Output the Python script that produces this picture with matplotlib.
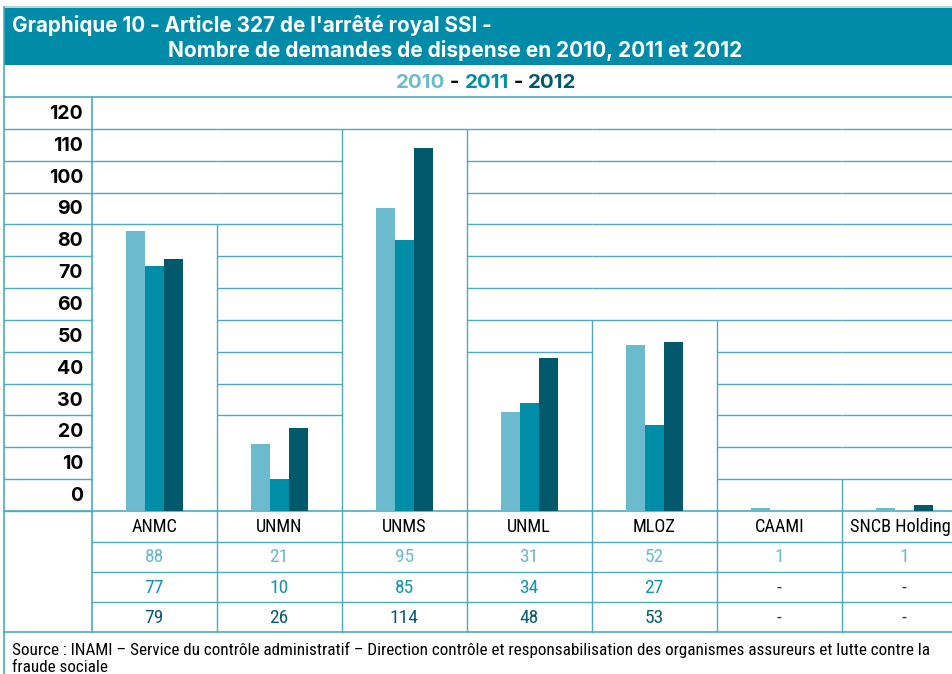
import numpy as np
import matplotlib
matplotlib.use('Agg')
import matplotlib.pyplot as plt
from matplotlib.patches import Rectangle
from matplotlib import font_manager as fm

# data
categories = ['ANMC', 'UNMN', 'UNMS', 'UNML', 'MLOZ', 'CAAMI', 'SNCB Holding']
years = ['2010', '2011', '2012']
v2010 = [88, 21, 95, 31, 52, 1, 1]
v2011 = [77, 10, 85, 34, 27, 0, 0]
v2012 = [79, 26, 114, 48, 53, 0, 2]
t2010 = ['88', '21', '95', '31', '52', '1', '1']
t2011 = ['77', '10', '85', '34', '27', '-', '-']
t2012 = ['79', '26', '114', '48', '53', '-', '-']
yticks = list(range(0, 130, 10))

c10, c11, c12 = '#6BBACE', '#008DA8', '#005A6C'
line_c = '#4AABC1'
light_line = '#9FD3DE'
title_bg = '#008CA8'

# pick a narrow face if one is installed
names = {f.name for f in fm.fontManager.ttflist}
narrow_name = 'Roboto'
for cand in ['Roboto Condensed', 'Liberation Sans Narrow', 'Arial Narrow', 'Open Sans Condensed']:
    if cand in names:
        narrow_name = cand
        break
narrow = [narrow_name, 'DejaVu Sans']
head = ['Inter', 'Liberation Sans', 'DejaVu Sans']

W, H = 953, 674
fig = plt.figure(figsize=(W / 100, H / 100), dpi=100)
r = fig.canvas.get_renderer()

# overlay in pixel coords
ov = fig.add_axes([0, 0, 1, 1])
ov.set_xlim(0, W)
ov.set_ylim(H, 0)
ov.axis('off')

def fit_text(x, y, s, width, size, **kw):
    t = ov.text(x, y, s, fontsize=size, va='baseline', **kw)
    w = t.get_window_extent(r).width
    t.set_fontsize(size * width / w)
    return t

x0 = 4.0         # outer left border
xl = 91.7        # label column right edge
colw = 125.0
ybase = 511.0
ytop = 97.0
ymax = 130.0
def ypx(v):
    return ybase - v * (ybase - ytop) / ymax
def xcol(i):
    return xl + i * colw

# bars axes
bx = fig.add_axes([xl / W, (H - ybase) / H, 7 * colw / W, (ybase - ytop) / H])
bx.set_xlim(0, 7)
bx.set_ylim(0, ymax)
bx.axis('off')
bx.patch.set_alpha(0)

# header
ov.plot([x0, W], [7.3, 7.3], color=light_line, lw=1.2)
ov.add_patch(Rectangle((x0, 8), W - x0, 57, color=title_bg, lw=0))
fit_text(12, 32, "Graphique 10 - Article 327 de l'arrêté royal SSI -", 480, 13,
         color='white', fontweight='bold', family=head)
fit_text(168, 57, "Nombre de demandes de dispense en 2010, 2011 et 2012", 575, 13,
         color='white', fontweight='bold', family=head)

# legend line
probe = fit_text(0, -50, '2010 - 2011 - 2012', 181, 13, fontweight='bold', family=head)
lsize = probe.get_fontsize()
probe.remove()
pieces = [('2010', c10), (' - ', 'black'), ('2011', c11), (' - ', 'black'), ('2012', c12)]
xx = 396
for s, c in pieces:
    t = ov.text(xx, 88, s, color=c, fontsize=lsize, fontweight='bold', family=head, va='baseline')
    xx += t.get_window_extent(r).width

# frame lines
ov.plot([x0, W], [ytop, ytop], color=line_c, lw=1.2)
ov.plot([x0, x0], [7.3, H], color=line_c, lw=1.2)
ov.plot([xl, xl], [ytop, 632], color=line_c, lw=1.2)
for v in yticks:
    ov.plot([x0, xl], [ypx(v), ypx(v)], color=line_c, lw=1.0)
    ov.text(83, ypx(v + 5) + 1, str(v), ha='right', va='center', fontsize=14,
            fontweight='bold', family=head, color='black')

# grid with boxes around each group
tops = [int(np.ceil(max(a, b, c) / 10.0) * 10) for a, b, c in zip(v2010, v2011, v2012)]
for i, tp in enumerate(tops):
    for v in yticks[1:]:
        if v >= tp:
            bx.hlines(v, i, i + 1, color=line_c, lw=1.0)
for k in range(1, 7):
    bx.vlines(k, 0, max(tops[k - 1], tops[k]), color=line_c, lw=1.0)

# bars
x = np.arange(len(categories)) + 0.5
bw = 19.0 / colw
bx.bar(x - bw, v2010, bw, color=c10, lw=0)
bx.bar(x, v2011, bw, color=c11, lw=0)
bx.bar(x + bw, v2012, bw, color=c12, lw=0)

# table
rows_y = [511, 541.5, 571.5, 602, 632]
ov.plot([x0, W], [ybase, ybase], color=line_c, lw=1.2)
for ry in rows_y[1:-1]:
    ov.plot([xl, W], [ry, ry], color=line_c, lw=1.0)
ov.plot([x0, W], [632, 632], color=line_c, lw=1.2)
for k in range(1, 7):
    ov.plot([xcol(k), xcol(k)], [ybase, 632], color=line_c, lw=1.0)

# source text, sized to the reference width
src = fit_text(12, 655, "Source : INAMI – Service du contrôle administratif – Direction contrôle et "
               "responsabilisation des organismes assureurs et lutte contre la", 916, 11.5,
               family=narrow, color='black')
ssize = src.get_fontsize()
ov.text(12, 672, "fraude sociale", fontsize=ssize, family=narrow, color='black', va='baseline')

# table cell text
probe = fit_text(0, -50, 'SNCB Holding', 101, 12.5, family=narrow)
csize = probe.get_fontsize()
probe.remove()
row_text = [categories, t2010, t2011, t2012]
row_col = ['black', c10, '#1395AE', '#0B5C6E']
for j, (labels, col) in enumerate(zip(row_text, row_col)):
    cy = (rows_y[j] + rows_y[j + 1]) / 2
    size = csize if j == 0 else 14
    for i, s in enumerate(labels):
        cc = '#333333' if s == '-' else col
        t = ov.text(xcol(i) + colw / 2, cy + 1, s, ha='center', va='center', fontsize=size,
                    family=narrow, color=cc)
        w = t.get_window_extent(r).width
        if xcol(i) + colw / 2 + w / 2 > W - 2:
            t.set_x(W - 2 - w / 2)

fig.savefig('out.png', dpi=100)
